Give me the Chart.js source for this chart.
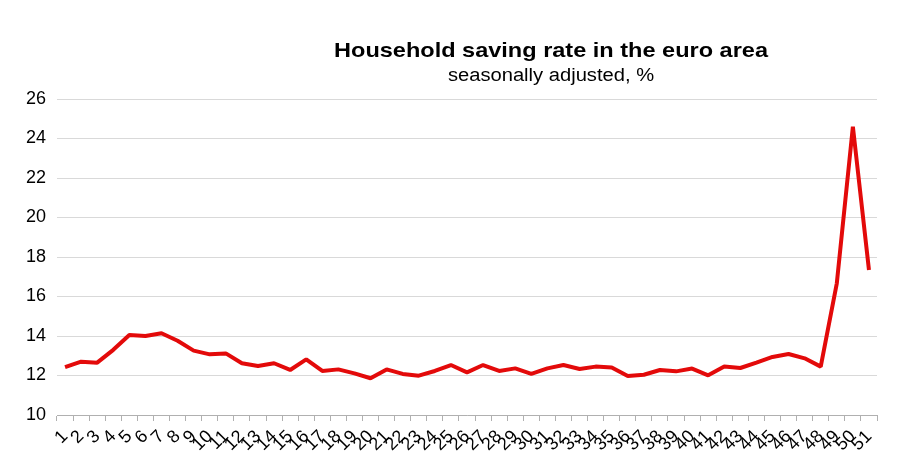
<!DOCTYPE html>
<html>
<head>
<meta charset="utf-8">
<script src="https://cdn.jsdelivr.net/npm/chart.js@4.4.1/dist/chart.umd.min.js"></script>
<style>
  html, body { margin: 0; padding: 0; background: #fff; }
  #wrap { width: 909px; height: 466px; position: relative; }
</style>
</head>
<body>
<div id="wrap"><canvas id="myChart" width="909" height="466"></canvas></div>
<script>
// quarters are just numbered 1..51 in the source chart
var quarters = [];
for (var i = 1; i <= 51; i++) {
    quarters.push(String(i));
}

// household saving rate, %
var savingRate = [
    12.42, 12.70, 12.65, 13.30, 14.05, 14.00, 14.14, 13.76, 13.26, 13.07,
    13.12, 12.62, 12.48, 12.62, 12.28, 12.82, 12.23, 12.31, 12.11, 11.86,
    12.31, 12.08, 11.99, 12.23, 12.53, 12.16, 12.53, 12.23, 12.36, 12.08,
    12.36, 12.53, 12.33, 12.45, 12.41, 11.97, 12.04, 12.28, 12.21, 12.35,
    12.01, 12.45, 12.38, 12.65, 12.94, 13.09, 12.87, 12.45, 16.67, 24.60,
    17.34
];

var yTicks = [10, 12, 14, 16, 18, 20, 22, 24, 26];

var titleText = 'Household saving rate in the euro area';
var subtitleText = 'seasonally adjusted, %';

// title sits right of centre in the original and looks a bit wide,
// so draw it by hand with a small horizontal stretch
var titlePlugin = {
    id: 'offsetTitle',
    afterDraw: function(chart) {
        var ctx = chart.ctx;
        ctx.save();
        ctx.fillStyle = '#000';
        ctx.textAlign = 'center';
        ctx.textBaseline = 'alphabetic';
        ctx.translate(551, 0);
        ctx.scale(1.12, 1);
        ctx.font = 'bold 21px "Liberation Sans", Arial, sans-serif';
        ctx.fillText(titleText, 0, 57);
        ctx.font = '18px "Liberation Sans", Arial, sans-serif';
        ctx.fillText(subtitleText, 0, 81);
        ctx.restore();
    }
};

var ctx = document.getElementById('myChart');

var chart = new Chart(ctx, {
    type: 'line',
    data: {
        labels: quarters,
        datasets: [{
            data: savingRate,
            borderColor: '#e30a0a',
            borderWidth: 4,
            borderJoinStyle: 'bevel',
            pointRadius: 0,
            tension: 0,
            fill: false
        }]
    },
    options: {
        responsive: false,
        animation: false,
        layout: {
            padding: { top: 99, right: 32, left: 0, bottom: 0 }
        },
        plugins: {
            legend: { display: false },
            title: { display: false },
            tooltip: { enabled: false }
        },
        scales: {
            x: {
                offset: true,
                grid: {
                    offset: true,
                    drawOnChartArea: false,
                    drawTicks: true,
                    tickLength: 6,
                    color: '#b0b0b0'
                },
                border: { color: '#b0b0b0' },
                ticks: {
                    autoSkip: false,
                    maxRotation: 45,
                    minRotation: 45,
                    padding: 5,
                    color: '#000',
                    font: { family: '"Liberation Sans", Arial, sans-serif', size: 18 }
                },
                afterFit: function(scale) { scale.height = 51; }
            },
            y: {
                min: 10,
                max: 26,
                afterBuildTicks: function(scale) {
                    scale.ticks = yTicks.map(function(v) { return { value: v }; });
                },
                grid: {
                    color: '#d9d9d9',
                    lineWidth: 1,
                    drawTicks: false
                },
                border: { display: false },
                ticks: {
                    padding: 11,
                    color: '#000',
                    font: { family: '"Liberation Sans", Arial, sans-serif', size: 18 }
                },
                afterFit: function(scale) { scale.width = 57; }
            }
        }
    },
    plugins: [titlePlugin]
});
</script>
</body>
</html>
